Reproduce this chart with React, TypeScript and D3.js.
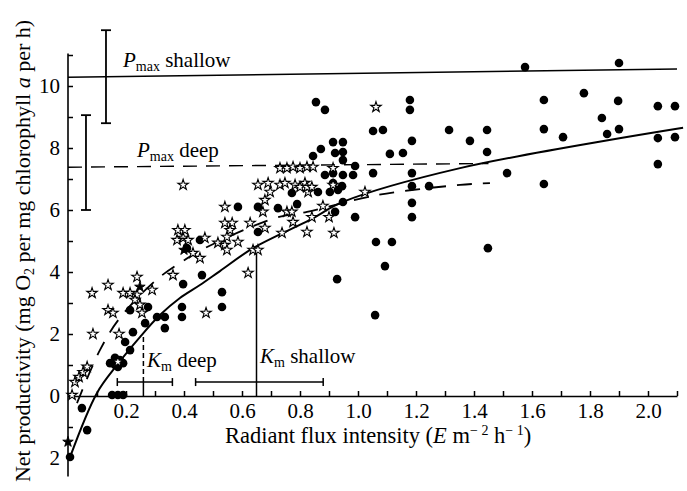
import * as d3 from 'd3';
import { useEffect, useRef } from 'react';

// shallow station samples (filled circles): [radiant flux, net productivity]
const shallowPoints: [number, number][] = [
  [0.007, -1.97], [0.066, -1.1], [0.048, -0.39], [0.152, 0.03], [0.172, 0.03], [0.19, 0.03],
  [0.162, 1.23], [0.179, 1.16], [0.162, 1.0], [0.19, 1.06], [0.172, 0.94], [0.145, 1.06],
  [0.214, 1.48], [0.197, 1.74], [0.224, 2.06], [0.266, 2.35], [0.214, 2.77], [0.276, 2.87],
  [0.307, 2.55], [0.334, 2.55], [0.334, 2.19], [0.393, 2.87], [0.393, 2.55], [0.397, 3.61],
  [0.462, 3.9], [0.531, 3.35], [0.531, 2.87], [0.41, 4.77], [0.455, 5.03], [0.586, 6.1],
  [0.655, 6.1], [0.724, 6.06], [0.772, 6.55], [0.79, 6.19], [0.655, 5.29], [0.855, 9.48],
  [0.886, 9.23], [1.179, 9.55], [1.179, 9.23], [1.052, 8.55], [1.086, 8.58], [0.914, 8.19],
  [0.948, 8.19], [1.186, 8.23], [0.872, 7.97], [0.845, 7.74], [0.921, 7.84], [0.948, 7.87],
  [0.948, 7.61], [1.11, 7.81], [1.155, 7.84], [0.99, 7.42], [0.886, 7.13], [0.914, 7.19],
  [0.948, 7.13], [0.983, 7.13], [1.052, 7.19], [1.186, 7.19], [0.914, 6.87], [0.945, 6.77],
  [0.931, 6.65], [0.903, 6.58], [0.862, 6.58], [1.186, 6.77], [0.948, 6.26], [0.99, 5.77],
  [1.186, 6.23], [1.186, 5.77], [0.921, 5.94], [1.062, 4.97], [1.117, 4.97], [1.093, 4.19],
  [0.928, 3.77], [1.059, 2.61], [1.314, 8.58], [1.386, 8.23], [1.245, 6.77], [1.576, 10.61],
  [1.9, 10.74], [1.779, 9.77], [1.641, 9.55], [1.897, 9.52], [2.034, 9.35], [2.093, 9.35],
  [1.841, 8.97], [1.445, 8.58], [1.641, 8.61], [1.9, 8.61], [1.859, 8.45], [1.707, 8.35],
  [2.034, 8.32], [2.093, 8.35], [1.445, 7.87], [1.514, 7.19], [1.641, 6.84], [2.034, 7.48],
  [1.448, 4.77],
];

// deep station samples (open stars)
const deepPoints: [number, number][] = [
  [0.014, 0.03], [0.024, 0.45], [0.038, 0.61], [0.052, 0.77], [0.066, 0.94], [0.086, 2.0],
  [0.176, 2.0], [0.083, 3.32], [0.138, 3.58], [0.238, 3.84], [0.29, 3.42], [0.19, 3.32],
  [0.214, 3.32], [0.238, 3.26], [0.231, 3.1], [0.138, 2.77], [0.155, 2.68], [0.248, 2.94],
  [0.255, 2.68], [0.172, 1.1], [0.362, 3.9], [0.397, 6.81], [0.541, 6.1], [0.379, 5.35],
  [0.403, 5.35], [0.397, 5.1], [0.376, 5.03], [0.414, 5.03], [0.431, 4.61], [0.455, 4.45],
  [0.472, 5.1], [0.517, 4.94], [0.541, 4.87], [0.548, 4.71], [0.541, 5.58], [0.566, 5.58],
  [0.559, 5.35], [0.548, 5.13], [0.586, 4.97], [0.476, 2.68], [0.731, 7.35], [0.755, 7.35],
  [0.776, 7.39], [0.8, 7.35], [0.824, 7.39], [0.845, 7.39], [0.655, 6.81], [0.69, 6.87],
  [0.697, 6.58], [0.731, 6.81], [0.748, 6.87], [0.783, 6.81], [0.817, 6.87], [0.828, 6.58],
  [0.679, 6.32], [0.672, 5.94], [0.755, 5.94], [0.772, 5.94], [0.628, 5.58], [0.679, 5.42],
  [0.776, 5.61], [0.738, 5.26], [0.824, 5.29], [0.917, 5.26], [0.638, 4.71], [0.655, 4.71],
  [0.621, 3.97], [1.062, 9.32], [0.914, 7.35], [0.914, 6.81], [1.024, 6.58], [0.879, 6.13],
  [0.841, 5.77], [0.9, 5.77], [0.8, 6.74], [0.824, 6.74], [0.841, 6.74],
];

// a few stars printed solid
const deepSolid: [number, number][] = [[0.0, -1.48], [0.248, 3.52], [0.4, 4.71]];

// fitted curves
const shallowCurve: [number, number][] = [
  [0.007, -1.97], [0.1, 0.1], [0.169, 1.0], [0.248, 1.9], [0.317, 2.61], [0.386, 3.16],
  [0.455, 3.58], [0.524, 4.03], [0.638, 4.77], [0.834, 5.68], [0.948, 6.26], [1.352, 7.35],
  [2.121, 8.65],
];
const deepCurve: [number, number][] = [
  [0.031, -0.23], [0.11, 1.48], [0.179, 2.52], [0.3, 3.71], [0.386, 4.29], [0.472, 4.77],
  [0.714, 5.74], [0.824, 5.94], [1.066, 6.48], [1.352, 6.81], [1.455, 6.87],
];

// Pmax lines and their error bars
const pmaxShallow: [number, number][] = [[0, 10.28], [2.1, 10.55]];
const pmaxDeep: [number, number][] = [[0, 7.38], [1.45, 7.5]];
const pmaxShallowBar = { x: 0.131, lo: 8.8, hi: 11.8 };
const pmaxDeepBar = { x: 0.062, lo: 6.0, hi: 9.06 };

// Km estimates with ranges
const kmDeep = { lo: 0.17, mid: 0.26, hi: 0.36, y: 0.45, top: 1.9 };
const kmShallow = { lo: 0.44, mid: 0.65, hi: 0.88, y: 0.45, top: 4.77 };

const yTicks = d3.range(-2, 12);
const xTicks = d3.range(1, 22).map((i) => i / 10);

export default function App() {
  const ref = useRef<SVGSVGElement>(null);
  const width = 687;
  const height = 491;

  useEffect(() => {
    const svg = d3.select(ref.current);
    svg.selectAll('*').remove();
    const font = 'Times New Roman';

    const x = d3.scaleLinear().domain([0, 2.1]).range([68, 677]);
    const y = d3.scaleLinear().domain([0, 10]).range([396, 86]);

    // y axis
    const yAxis = d3
      .axisLeft(y)
      .tickValues(yTicks)
      .tickSize(-5)
      .tickPadding(8)
      .tickFormat((d) => {
        const v = +d;
        return v % 2 === 0 && v <= 10 ? String(Math.abs(v)) : '';
      });
    const gy = svg
      .append('g')
      .attr('transform', `translate(${x(0)},0)`)
      .call(yAxis);
    gy.select('.domain').remove();
    gy.attr('font-family', font).attr('font-size', 21);
    gy.selectAll('line').attr('stroke-width', 1.5);
    svg
      .append('line')
      .attr('x1', x(0))
      .attr('x2', x(0))
      .attr('y1', y(-2.6))
      .attr('y2', y(11.05))
      .attr('stroke', 'black')
      .attr('stroke-width', 1.6);

    // x axis
    const xAxis = d3
      .axisBottom(x)
      .tickValues(xTicks)
      .tickSize(-5)
      .tickSizeOuter(0)
      .tickPadding(7)
      .tickFormat((d) => {
        const v = Math.round(+d * 10);
        return v % 2 === 0 && v <= 20 ? (+d).toFixed(1) : '';
      });
    const gx = svg
      .append('g')
      .attr('transform', `translate(0,${y(0)})`)
      .call(xAxis);
    gx.attr('font-family', font).attr('font-size', 21);
    gx.select('.domain').attr('stroke-width', 1.6);
    gx.selectAll('line').attr('stroke-width', 1.5);

    const line = d3
      .line<[number, number]>()
      .x((d) => x(d[0]))
      .y((d) => y(d[1]));
    const smooth = d3
      .line<[number, number]>()
      .x((d) => x(d[0]))
      .y((d) => y(d[1]))
      .curve(d3.curveCatmullRom);

    // Pmax lines
    svg
      .append('path')
      .attr('d', line(pmaxShallow))
      .attr('fill', 'none')
      .attr('stroke', 'black')
      .attr('stroke-width', 1.6);
    svg
      .append('path')
      .attr('d', line(pmaxDeep))
      .attr('fill', 'none')
      .attr('stroke', 'black')
      .attr('stroke-width', 1.4)
      .attr('stroke-dasharray', '14 9');

    // error bars
    [pmaxShallowBar, pmaxDeepBar].forEach((b) => {
      const g = svg.append('g').attr('stroke', 'black').attr('stroke-width', 1.8);
      g.append('line').attr('x1', x(b.x)).attr('x2', x(b.x)).attr('y1', y(b.lo)).attr('y2', y(b.hi));
      [b.lo, b.hi].forEach((v) => {
        g.append('line')
          .attr('x1', x(b.x) - 5)
          .attr('x2', x(b.x) + 5)
          .attr('y1', y(v))
          .attr('y2', y(v));
      });
    });

    // fitted curves
    svg
      .append('path')
      .attr('d', smooth(shallowCurve))
      .attr('fill', 'none')
      .attr('stroke', 'black')
      .attr('stroke-width', 2);
    svg
      .append('path')
      .attr('d', smooth(deepCurve))
      .attr('fill', 'none')
      .attr('stroke', 'black')
      .attr('stroke-width', 1.8)
      .attr('stroke-dasharray', '15 11');

    // Km bars
    [kmDeep, kmShallow].forEach((k, i) => {
      const g = svg.append('g').attr('stroke', 'black').attr('stroke-width', 1.5);
      g.append('line').attr('x1', x(k.lo)).attr('x2', x(k.hi)).attr('y1', y(k.y)).attr('y2', y(k.y));
      [k.lo, k.hi].forEach((v) => {
        g.append('line')
          .attr('x1', x(v))
          .attr('x2', x(v))
          .attr('y1', y(k.y) - 4)
          .attr('y2', y(k.y) + 4);
      });
      if (i === 0) {
        g.append('line').attr('x1', x(k.mid)).attr('x2', x(k.mid)).attr('y1', y(0)).attr('y2', y(k.y));
        g.append('line')
          .attr('x1', x(k.mid))
          .attr('x2', x(k.mid))
          .attr('y1', y(k.y))
          .attr('y2', y(k.top))
          .attr('stroke-dasharray', '5 3');
      } else {
        g.append('line').attr('x1', x(k.mid)).attr('x2', x(k.mid)).attr('y1', y(0)).attr('y2', y(k.top));
      }
    });

    // points
    svg
      .append('g')
      .selectAll('circle')
      .data(shallowPoints)
      .enter()
      .append('circle')
      .attr('cx', (d) => x(d[0]))
      .attr('cy', (d) => y(d[1]))
      .attr('r', 4.3)
      .attr('fill', 'black');

    const star = d3.symbol().type(d3.symbolStar).size(34);
    svg
      .append('g')
      .selectAll('path')
      .data(deepPoints)
      .enter()
      .append('path')
      .attr('d', star)
      .attr('transform', (d) => `translate(${x(d[0])},${y(d[1])})`)
      .attr('fill', 'white')
      .attr('stroke', 'black')
      .attr('stroke-width', 1.1);
    svg
      .append('g')
      .selectAll('path')
      .data(deepSolid)
      .enter()
      .append('path')
      .attr('d', star)
      .attr('transform', (d) => `translate(${x(d[0])},${y(d[1])})`)
      .attr('fill', 'black')
      .attr('stroke', 'black');

    // labels, all in one serif group
    const texts = svg.append('g').attr('font-family', font).attr('font-size', 21);
    const label = (px: number, py: number) => texts.append('text').attr('x', px).attr('y', py);

    const ps = label(123, 67);
    ps.append('tspan').attr('font-style', 'italic').text('P');
    ps.append('tspan').attr('font-size', 14).attr('dy', 4).text('max');
    ps.append('tspan').attr('dy', -4).text(' shallow');

    const pd = label(137, 157);
    pd.append('tspan').attr('font-style', 'italic').text('P');
    pd.append('tspan').attr('font-size', 14).attr('dy', 4).text('max');
    pd.append('tspan').attr('dy', -4).text(' deep');

    const kd = label(147, 367);
    kd.append('tspan').attr('font-style', 'italic').text('K');
    kd.append('tspan').attr('font-size', 14).attr('dy', 4).text('m');
    kd.append('tspan').attr('dy', -4).text(' deep');

    const ks = label(260, 363);
    ks.append('tspan').attr('font-style', 'italic').text('K');
    ks.append('tspan').attr('font-size', 14).attr('dy', 4).text('m');
    ks.append('tspan').attr('dy', -4).text(' shallow');

    // axis titles
    const xt = label(225, 443).attr('font-size', 22.5);
    xt.append('tspan').text('Radiant flux intensity (');
    xt.append('tspan').attr('font-style', 'italic').text('E');
    xt.append('tspan').text(' m');
    xt.append('tspan').attr('font-size', 14).attr('dy', -8).text('− 2');
    xt.append('tspan').attr('dy', 8).text(' h');
    xt.append('tspan').attr('font-size', 14).attr('dy', -8).text('− 1');
    xt.append('tspan').attr('dy', 8).text(')');

    const yt = texts
      .append('text')
      .attr('transform', 'translate(30,251) rotate(-90)')
      .attr('text-anchor', 'middle')
      .attr('font-size', 22);
    yt.append('tspan').text('Net productivity (mg O');
    yt.append('tspan').attr('font-size', 14).attr('dy', 4).text('2');
    yt.append('tspan').attr('dy', -4).text(' per mg chlorophyll ');
    yt.append('tspan').attr('font-style', 'italic').text('a');
    yt.append('tspan').text(' per h)');
  }, []);

  return (
    <svg
      ref={ref}
      width={width}
      height={height}
      style={{ position: 'absolute', left: 0, top: 0, background: 'white' }}
    />
  );
}
